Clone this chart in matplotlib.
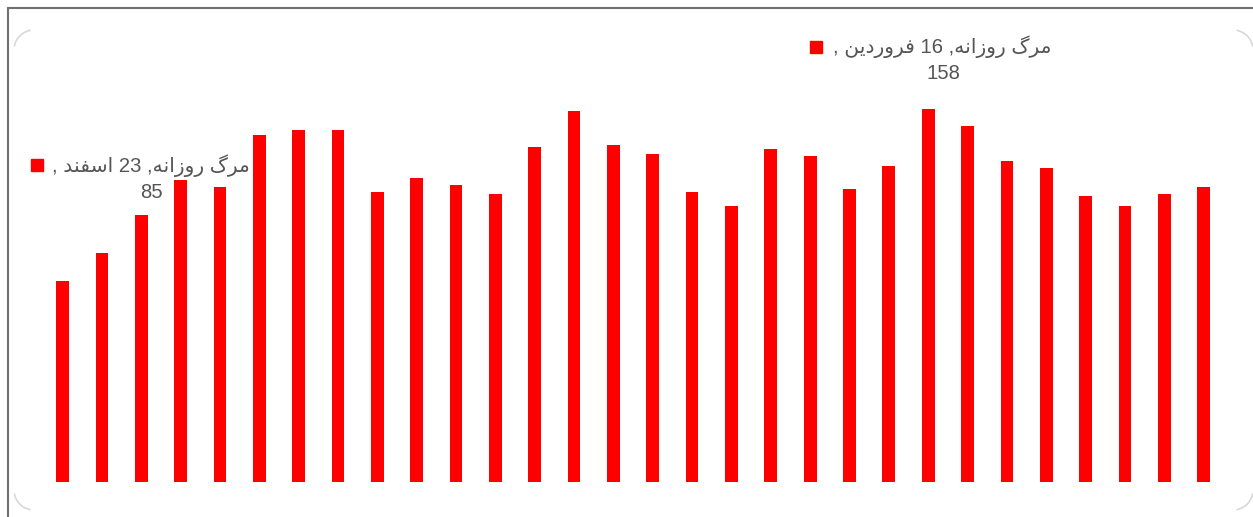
import re
import unicodedata
import matplotlib
matplotlib.use("Agg")
import matplotlib.pyplot as plt
from matplotlib.lines import Line2D
from matplotlib.patches import Arc
from matplotlib.transforms import IdentityTransform, offset_copy

# daily deaths, 23 Esfand .. 22 Farvardin
deaths = [85, 97, 113, 128, 125, 147, 149, 149, 123, 129,
          126, 122, 142, 157, 143, 139, 123, 117, 141, 138,
          124, 134, 158, 151, 136, 133, 121, 117, 122, 125]
series_name = "مرگ روزانه"
label_idx = [0, 22]
label_days = ["23 اسفند", "16 فروردین"]


def build_forms():
    # presentation forms (isolated/final/initial/medial) taken from unicodedata
    forms = {}
    for cp in list(range(0xFB50, 0xFE00)) + list(range(0xFE70, 0xFF00)):
        dec = unicodedata.decomposition(chr(cp)).split()
        if len(dec) != 2 or not dec[0].startswith("<"):
            continue
        kind = dec[0].strip("<>")
        if kind not in ("isolated", "final", "initial", "medial"):
            continue
        base = chr(int(dec[1], 16))
        forms.setdefault(base, {}).setdefault(kind, chr(cp))
    return forms


FORMS = build_forms()


def shape(text):
    out = []
    for i, ch in enumerate(text):
        f = FORMS.get(ch)
        if not f:
            out.append(ch)
            continue
        prev = FORMS.get(text[i - 1]) if i > 0 else None
        nxt = FORMS.get(text[i + 1]) if i + 1 < len(text) else None
        join_prev = prev is not None and "medial" in prev and "final" in f
        join_next = nxt is not None and "medial" in f and "final" in nxt
        if join_prev and join_next and "medial" in f:
            out.append(f["medial"])
        elif join_prev:
            out.append(f["final"])
        elif join_next and "initial" in f:
            out.append(f["initial"])
        else:
            out.append(f.get("isolated", ch))
    s = "".join(out)
    # crude bidi: digits stay left-to-right, the rest is reversed
    toks = re.findall(r"\d+|\D+", s)
    return "".join(t if t.isdigit() else t[::-1] for t in reversed(toks))


W, H = 1253, 517
fig = plt.figure(figsize=(W / 100, H / 100), dpi=100)
fig.patch.set_facecolor("white")

step = 39.34
x0 = 62.7
ymax = 170
ppu = 2.36
left = (x0 - step / 2) / W
width = step * len(deaths) / W
bottom = (H - 482) / H
height = ymax * ppu / H
ax = fig.add_axes([left, bottom, width, height])
ax.bar(range(len(deaths)), deaths, width=0.323, color="#ff0000")
ax.set_xlim(-0.5, len(deaths) - 0.5)
ax.set_ylim(0, ymax)
ax.axis("off")

# data labels: (square dx, line dx, line dy, value dx, value dy) in pixels
offsets = [(-26, -11, 116, 89, 89), (-112, -95, 62, 15, 36)]
txt_font = ["Liberation Sans", "DejaVu Sans"]
fs = 14.6
for (i, day), (sq_dx, t_dx, t_dy, v_dx, v_dy) in zip(zip(label_idx, label_days), offsets):
    v = deaths[i]
    tr = offset_copy(ax.transData, fig=fig, x=sq_dx, y=t_dy, units="dots")
    ax.plot(i, v, "s", color="#ff0000", markersize=8.6, transform=tr, clip_on=False)
    line1 = shape(series_name + ", " + day + " ,")
    ax.annotate(line1, (i, v), xytext=(t_dx, t_dy), textcoords="offset pixels",
                ha="left", va="center", fontsize=fs, color="#555555",
                family=txt_font, annotation_clip=False)
    ax.annotate(str(v), (i, v), xytext=(v_dx, v_dy), textcoords="offset pixels",
                ha="center", va="center", fontsize=fs, color="#555555",
                family=txt_font, annotation_clip=False)

# screenshot frame: dark lines top and left
fig.add_artist(Line2D([7.5 / W, 7.5 / W], [0, (H - 7.5) / H], color="#707070", lw=1.5,
                      transform=fig.transFigure))
fig.add_artist(Line2D([7.5 / W, 1], [(H - 7.5) / H, (H - 7.5) / H], color="#707070", lw=1.5,
                      transform=fig.transFigure))

# faint rounded corners of the chart area
r = 20
corners = [(34, H - 50, 100), (1233, H - 50, 10), (34, H - 490, 190), (1233, H - 490, 280)]
for cx, cy, a in corners:
    fig.add_artist(Arc((cx, cy), 2 * r, 2 * r, theta1=a, theta2=a + 70, color="#d8d8d8",
                       lw=1.2, transform=IdentityTransform()))

fig.savefig("out.png", dpi=100, facecolor="white")
